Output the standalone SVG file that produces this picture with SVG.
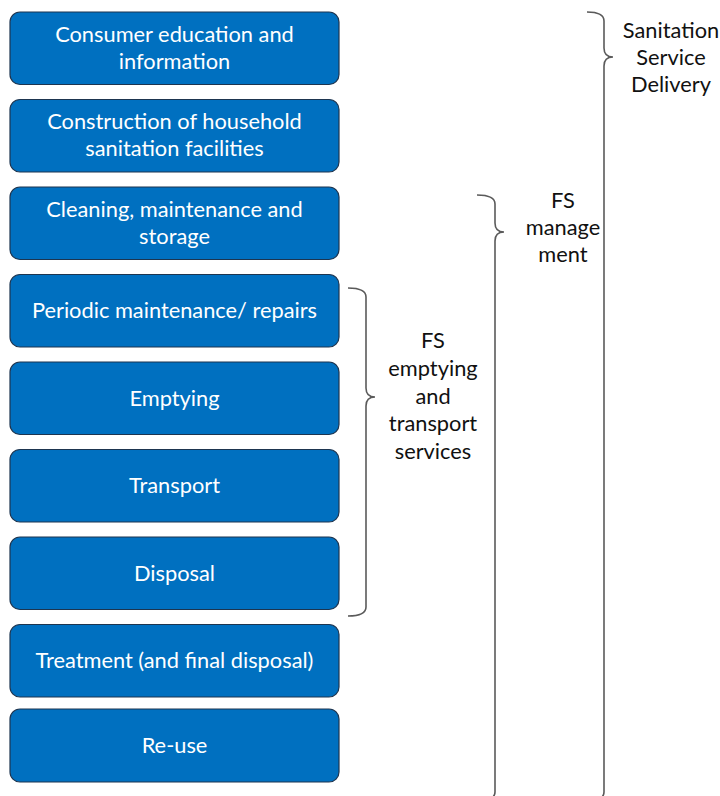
<svg xmlns="http://www.w3.org/2000/svg" width="720" height="796" viewBox="0 0 720 796">
  <style>
    .box rect { fill: #0070C0; stroke: #1d3550; stroke-width: 1.2; }
    .box text { fill: #ffffff; font-family: Lato, "Open Sans", "Liberation Sans", sans-serif; font-size: 21.8px; text-anchor: middle; }
    .brace { fill: none; stroke: #5a5a5a; stroke-width: 1.6; }
    .label { fill: #111111; font-family: Lato, "Open Sans", "Liberation Sans", sans-serif; font-size: 21.8px; text-anchor: middle; }
  </style>

  <rect width="720" height="796" fill="#ffffff"/>

  <!-- stages of the sanitation chain -->
  <g id="consumer-education" class="box">
    <rect x="10" y="12" width="329" height="72.5" rx="10"/>
    <text x="174.5" y="41.5">Consumer education and</text>
    <text x="174.5" y="68.5">information</text>
  </g>
  <g id="construction" class="box">
    <rect x="10" y="99.5" width="329" height="72.5" rx="10"/>
    <text x="174.5" y="129">Construction of household</text>
    <text x="174.5" y="156">sanitation facilities</text>
  </g>
  <g id="cleaning" class="box">
    <rect x="10" y="187" width="329" height="72.5" rx="10"/>
    <text x="174.5" y="216.5">Cleaning, maintenance and</text>
    <text x="174.5" y="243.5">storage</text>
  </g>
  <g id="periodic-maintenance" class="box">
    <rect x="10" y="274.5" width="329" height="72.5" rx="10"/>
    <text x="174.5" y="318">Periodic maintenance/ repairs</text>
  </g>
  <g id="emptying" class="box">
    <rect x="10" y="362" width="329" height="72.5" rx="10"/>
    <text x="174.5" y="405.5">Emptying</text>
  </g>
  <g id="transport" class="box">
    <rect x="10" y="449.5" width="329" height="72.5" rx="10"/>
    <text x="174.5" y="493">Transport</text>
  </g>
  <g id="disposal" class="box">
    <rect x="10" y="537" width="329" height="72.5" rx="10"/>
    <text x="174.5" y="580.5">Disposal</text>
  </g>
  <g id="treatment" class="box">
    <rect x="10" y="624.5" width="329" height="72.5" rx="10"/>
    <text x="174.5" y="668">Treatment (and final disposal)</text>
  </g>
  <g id="reuse" class="box">
    <rect x="10" y="709" width="329" height="73" rx="10"/>
    <text x="174.5" y="752.5">Re-use</text>
  </g>

  <!-- grouping braces -->
  <g id="connectors">
    <path class="brace" d="M348 288 Q366 288 366 297 V388 Q366 397 375 397 Q366 397 366 406 V607 Q366 616 348 616"/>
    <path class="brace" d="M477 195 Q495 195 495 204 V223 Q495 232 504 232 Q495 232 495 241 V792 Q495 801 477 801"/>
    <path class="brace" d="M587 12 Q604 12 604 21 V48 Q604 57 613 57 Q604 57 604 66 V792 Q604 801 587 801"/>
  </g>

  <g id="fs-emptying-label">
    <text class="label" x="433" y="348">FS</text>
    <text class="label" x="433" y="376">emptying</text>
    <text class="label" x="433" y="403.5">and</text>
    <text class="label" x="433" y="431">transport</text>
    <text class="label" x="433" y="458.5">services</text>
  </g>
  <g id="fs-management-label">
    <text class="label" x="563" y="208">FS</text>
    <text class="label" x="563" y="235">manage</text>
    <text class="label" x="563" y="262">ment</text>
  </g>
  <g id="sanitation-service-label">
    <text class="label" x="671" y="38">Sanitation</text>
    <text class="label" x="671" y="65">Service</text>
    <text class="label" x="671" y="92">Delivery</text>
  </g>
</svg>
